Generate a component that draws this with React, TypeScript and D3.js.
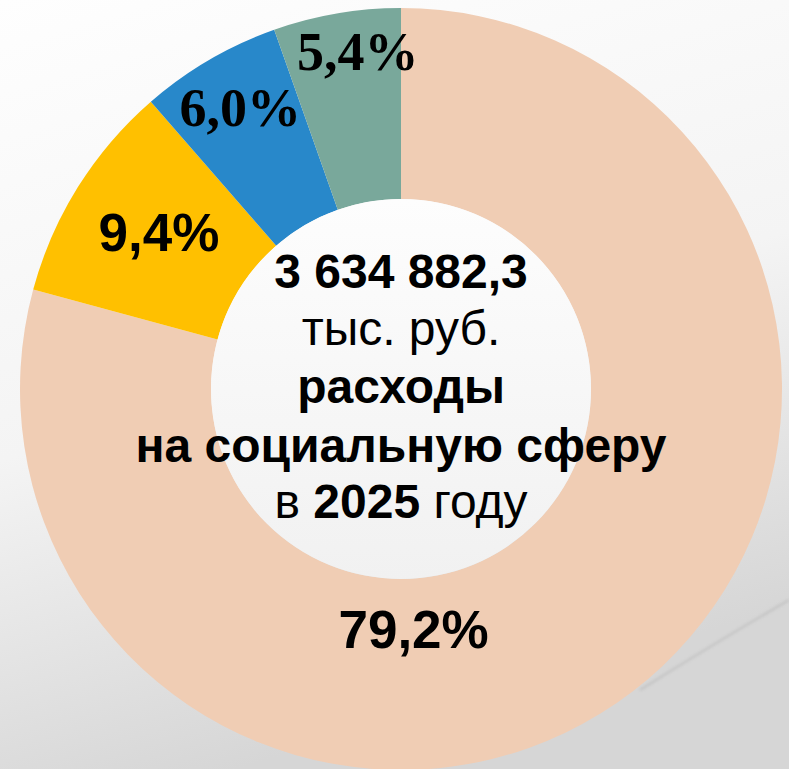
import React from "react";
import * as d3 from "d3";

const categories = ["A", "B", "C", "D"];
const shares = [79.2, 9.4, 6.0, 5.4];
const shareLabels = ["79,2%", "9,4%", "6,0%", "5,4%"];
const sliceColors = ["#F0CDB4", "#FFC000", "#2888CA", "#79A89B"];
const labelFonts = ["'Liberation Sans', Arial, sans-serif", "'Liberation Sans', Arial, sans-serif", "'Liberation Serif', 'Times New Roman', serif", "'Liberation Serif', 'Times New Roman', serif"];
const labelSizes = [53, 53, 54, 54];
const labelOffsets: [number, number][] = [[-161, 32], [0, 13], [-17, -16], [5, -38]];
const totalText = "3 634 882,3";
const unitText = "тыс. руб.";
const titleLine1 = "расходы";
const titleLine2 = "на социальную сферу";
const yearText = "2025";

const W = 789, H = 769;
const cx = 401, cy = 389;
const outerR = 381, innerR = 190;

export default function App() {
  const pie = d3.pie<number>().sort(null).value((d) => d).startAngle(0).endAngle(2 * Math.PI);
  const arcs = pie(shares);
  const arcGen = d3.arc<d3.PieArcDatum<number>>().innerRadius(innerR).outerRadius(outerR);
  const sans = "'Liberation Sans', Arial, sans-serif";
  return (
    <svg width={W} height={H} style={{ position: "fixed", left: 0, top: 0 }}>
      <defs>
        <linearGradient id="bg" x1="0" y1="0" x2="0.3" y2="1">
          <stop offset="0" stopColor="#fefefe" />
          <stop offset="0.55" stopColor="#f4f4f4" />
          <stop offset="1" stopColor="#d6d6d6" />
        </linearGradient>
        <linearGradient id="hole" x1="0" y1="0" x2="0" y2="1">
          <stop offset="0" stopColor="#fdfdfd" />
          <stop offset="1" stopColor="#f1f1f1" />
        </linearGradient>
        <filter id="blur"><feGaussianBlur stdDeviation="1.4" /></filter>
      </defs>
      <rect width={W} height={H} fill="url(#bg)" />
      <path d="M 640 690 Q 720 640 789 600" stroke="#a8a8a8" strokeWidth={1.6} fill="none" filter="url(#blur)" opacity={0.55} />
      <g transform={`translate(${cx},${cy})`}>
        {arcs.map((a, i) => (
          <path key={categories[i]} d={arcGen(a) || ""} fill={sliceColors[i]} />
        ))}
        <circle r={innerR} fill="url(#hole)" />
        {arcs.map((a, i) => {
          const [x, y] = arcGen.centroid(a);
          return (
            <text key={"l" + i} x={x + labelOffsets[i][0]} y={y + labelOffsets[i][1]} textAnchor="middle"
              fontFamily={labelFonts[i]} fontWeight="bold" fontSize={labelSizes[i]} fill="#000">
              {shareLabels[i]}
            </text>
          );
        })}
        <g fontFamily={sans} fontSize={48} textAnchor="middle" fill="#000">
          <text x={0} y={288 - cy} fontWeight="bold">{totalText}</text>
          <text x={0} y={345 - cy}>{unitText}</text>
          <text x={0} y={403 - cy} fontWeight="bold">{titleLine1}</text>
          <text x={0} y={462 - cy} fontWeight="bold">{titleLine2}</text>
          <text x={0} y={518 - cy}>
            <tspan>в </tspan>
            <tspan fontWeight="bold">{yearText}</tspan>
            <tspan> году</tspan>
          </text>
        </g>
      </g>
    </svg>
  );
}
